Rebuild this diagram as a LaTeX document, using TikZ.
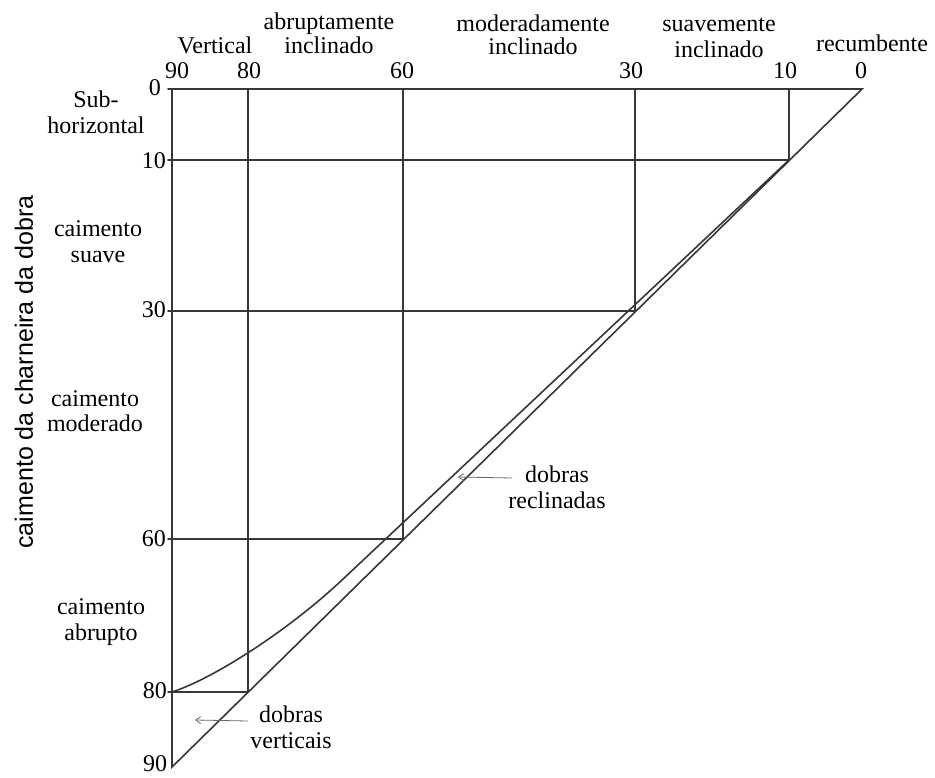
\documentclass[tikz,border=0pt]{standalone}
\usepackage{fontspec}
\setmainfont{Liberation Serif}
\newfontfamily\axisfont{Liberation Sans}
\usetikzlibrary{
  arrows.meta,
  positioning,
}
\definecolor{linegray}{RGB}{55,55,55}
\definecolor{pointergray}{RGB}{105,105,105}
\tikzstyle{gridline} = [line width=1.6pt, linegray, line cap=round]
\tikzstyle{num} = [font=\fontsize{24}{24}\selectfont, inner sep=0pt]
\tikzstyle{txt} = [font=\fontsize{24}{26}\selectfont, align=center, inner sep=0pt]
\tikzstyle{pointer} = [
  -{Straight Barb[length=5pt,width=7pt]},
  line width=0.8pt,
  pointergray,
]

\begin{document}
\begin{tikzpicture}[x=1pt,y=-1pt]
			\useasboundingbox (0,0) rectangle (935,777);

			% corners of the triangle
			\coordinate (o) at (172,89);
			\coordinate (r0) at (862,89);
			\coordinate (b90) at (172,767);

			% columns (top) and crossings with the diagonal
			\coordinate (c80) at (248,89);
			\coordinate (c60) at (403,89);
			\coordinate (c30) at (635,89);
			\coordinate (c10) at (789,89);
			\coordinate (d10) at (789,160);
			\coordinate (d30) at (635,311);
			\coordinate (d60) at (403,539);
			\coordinate (d80) at (248,692);

			% left ends of the rows
			\coordinate (l0) at (168,89);
			\coordinate (l10) at (168,160);
			\coordinate (l30) at (168,311);
			\coordinate (l60) at (168,539);
			\coordinate (l80) at (168,692);
			\coordinate (v80) at (172,692);

			% inner curve
			\coordinate (k1) at (342,580);

			\draw[gridline] (l0) -- (r0) -- (b90) -- (o);
			\draw[gridline] (c80) -- (d80) -- (l80);
			\draw[gridline] (c60) -- (d60) -- (l60);
			\draw[gridline] (c30) -- (d30) -- (l30);
			\draw[gridline] (c10) -- (d10) -- (l10);
			\draw[gridline] (d10) -- (k1) .. controls (290,629) and (215,678) .. (v80);

			% numbers along the top
			\node[num,anchor=base] (t90) at (177,78) {90};
			\node[num,anchor=base] (t80) at (249,78) {80};
			\node[num,anchor=base] (t60) at (402,78) {60};
			\node[num,anchor=base] (t30) at (631,78) {30};
			\node[num,anchor=base] (t10) at (785,78) {10};
			\node[num,anchor=base] (t0) at (861,78) {0};

			% numbers down the side
			\node[num,anchor=east] (s0) at (161,88) {0};
			\node[num,anchor=east] (s10) at (166,161) {10};
			\node[num,anchor=east] (s30) at (166,310) {30};
			\node[num,anchor=east] (s60) at (166,539) {60};
			\node[num,anchor=east] (s80) at (167,691) {80};
			\node[num] (s90) at (155,764) {90};

			% classes of the axial plane
			\node[txt] (vert) at (215,45) {Vertical};
			\node[txt,font=\fontsize{24}{24}\selectfont] (abr) at (329,33) {abruptamente\\inclinado};
			\node[txt,font=\fontsize{24}{23}\selectfont] (mod) at (533,35) {moderadamente\\inclinado};
			\node[txt] (sua) at (719,38) {suavemente\\inclinado};
			\node[txt] (rec) at (872,43) {recumbente};

			% classes of the hinge plunge
			\node[txt] (subh) at (96,112) {Sub-\\horizontal};
			\node[txt] (csua) at (98,242) {caimento\\suave};
			\node[txt,font=\fontsize{24}{25}\selectfont] (cmod) at (95,411) {caimento\\moderado};
			\node[txt] (cabr) at (101,622) {caimento\\abrupto};

			\node[font=\axisfont\fontsize{25}{25}\selectfont,rotate=90,inner sep=0pt] (axis) at (24,372) {caimento da charneira da dobra};

			% fold names
			\node[txt] (recl) at (557,487) {dobras\\reclinadas};
			\node[txt] (vtc) at (291,727) {dobras\\verticais};
			\coordinate (recltip) at (458,477);
			\coordinate (vtctip) at (195,720);
			\draw[pointer] ([xshift=4pt,yshift=9pt]recl.west) -- (recltip);
			\draw[pointer] ([xshift=-2pt,yshift=6pt]vtc.west) -- (vtctip);
      \end{tikzpicture}
\end{document}
